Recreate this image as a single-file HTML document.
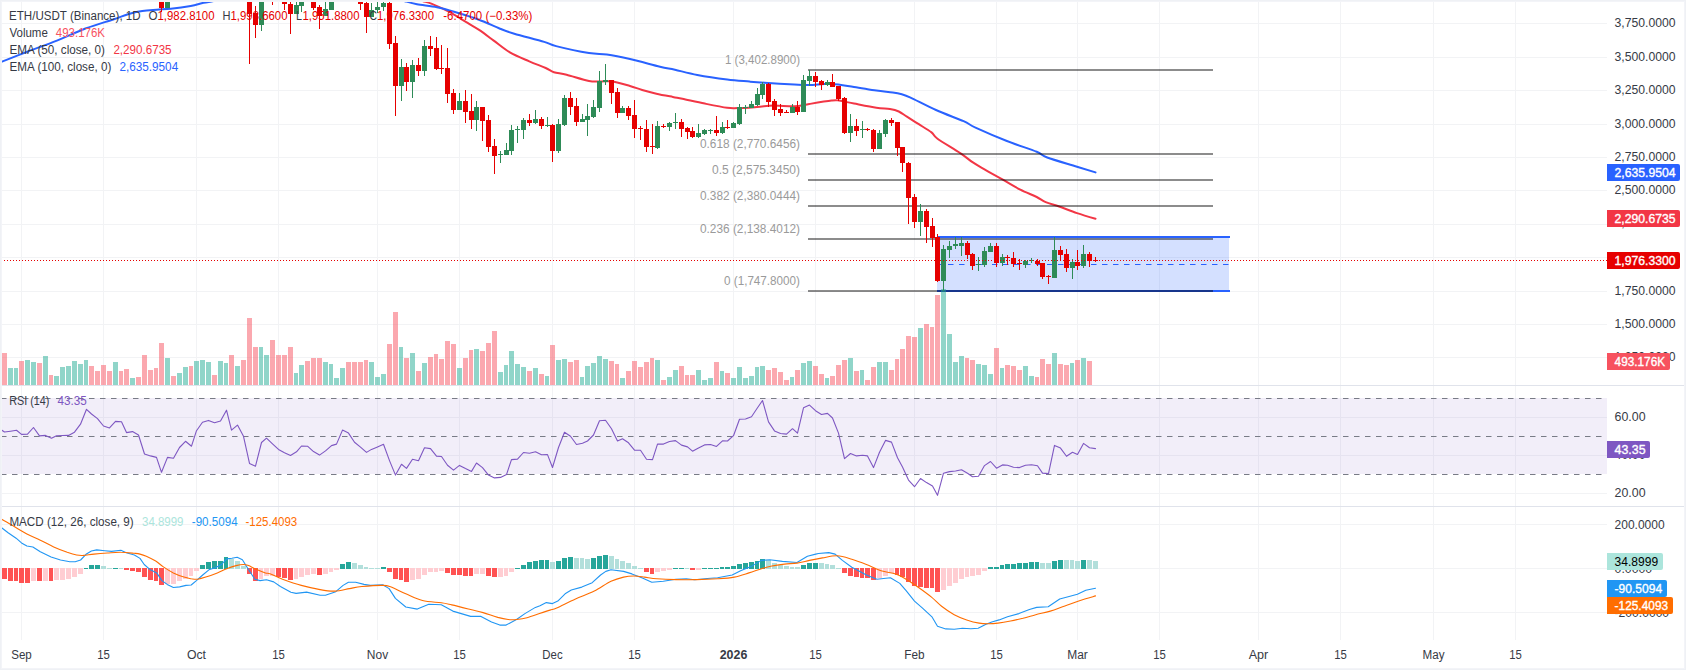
<!DOCTYPE html>
<html><head><meta charset="utf-8"><title>ETH/USDT chart</title>
<style>html,body{margin:0;padding:0;background:#fff}svg{display:block}</style></head>
<body>
<svg width="1686" height="670" viewBox="0 0 1686 670" font-family='"Liberation Sans", Arial, sans-serif' font-size="12">
<rect x="0" y="0" width="1686" height="670" fill="#fff"/>
<g shape-rendering="crispEdges" fill="#f2f3f5">
<rect x="21" y="2" width="1" height="638"/>
<rect x="103" y="2" width="1" height="638"/>
<rect x="196" y="2" width="1" height="638"/>
<rect x="278" y="2" width="1" height="638"/>
<rect x="377" y="2" width="1" height="638"/>
<rect x="459" y="2" width="1" height="638"/>
<rect x="552" y="2" width="1" height="638"/>
<rect x="634" y="2" width="1" height="638"/>
<rect x="733" y="2" width="1" height="638"/>
<rect x="815" y="2" width="1" height="638"/>
<rect x="914" y="2" width="1" height="638"/>
<rect x="996" y="2" width="1" height="638"/>
<rect x="1077" y="2" width="1" height="638"/>
<rect x="1159" y="2" width="1" height="638"/>
<rect x="1258" y="2" width="1" height="638"/>
<rect x="1340" y="2" width="1" height="638"/>
<rect x="1433" y="2" width="1" height="638"/>
<rect x="1515" y="2" width="1" height="638"/>
<rect x="2" y="23" width="1605" height="1"/>
<rect x="2" y="57" width="1605" height="1"/>
<rect x="2" y="90" width="1605" height="1"/>
<rect x="2" y="124" width="1605" height="1"/>
<rect x="2" y="157" width="1605" height="1"/>
<rect x="2" y="190" width="1605" height="1"/>
<rect x="2" y="224" width="1605" height="1"/>
<rect x="2" y="257" width="1605" height="1"/>
<rect x="2" y="291" width="1605" height="1"/>
<rect x="2" y="324" width="1605" height="1"/>
<rect x="2" y="357" width="1605" height="1"/>
<rect x="2" y="417" width="1605" height="1"/>
<rect x="2" y="455" width="1605" height="1"/>
<rect x="2" y="493" width="1605" height="1"/>
<rect x="2" y="524" width="1605" height="1"/>
<rect x="2" y="568" width="1605" height="1"/>
<rect x="2" y="612" width="1605" height="1"/>
</g>
<g shape-rendering="crispEdges" fill="#e0e3eb">
<rect x="2" y="385" width="1682" height="1"/>
<rect x="2" y="506" width="1682" height="1"/>
</g>
<rect x="2" y="398" width="1605" height="76" fill="#7e57c2" fill-opacity="0.1" shape-rendering="crispEdges"/>
<line x1="1" y1="398.5" x2="1607" y2="398.5" stroke="#787b86" stroke-width="1" stroke-dasharray="5.5 5.5"/>
<line x1="1" y1="436.5" x2="1607" y2="436.5" stroke="#787b86" stroke-width="1" stroke-dasharray="5.5 5.5"/>
<line x1="1" y1="474.5" x2="1607" y2="474.5" stroke="#787b86" stroke-width="1" stroke-dasharray="5.5 5.5"/>
<path d="M419.0,-1.5 C419.7,-1.1 420.9,0.3 423.0,1.2 C425.1,2.0 426.9,1.8 431.3,3.6 C435.7,5.4 443.3,8.7 449.3,11.9 C455.3,15.1 462.2,19.7 467.2,22.7 C472.2,25.7 474.7,26.9 479.1,29.9 C483.5,32.9 488.3,36.6 493.4,40.4 C498.5,44.1 503.9,48.9 509.9,52.4 C515.9,55.9 523.3,58.7 529.3,61.3 C535.3,63.9 541.6,66.2 545.7,68.0 C549.8,69.8 550.4,71.1 553.9,72.2 C557.4,73.3 560.8,73.3 566.6,74.8 C572.5,76.3 583.3,79.9 589.0,81.0 C594.7,82.1 596.9,81.4 600.9,81.5 C604.9,81.6 607.9,80.8 612.8,81.5 C617.6,82.2 625.1,84.6 630.0,86.0 C634.9,87.4 637.8,88.7 642.2,90.0 C646.6,91.3 651.3,92.5 656.4,93.7 C661.5,94.9 668.5,96.1 672.8,96.9 C677.1,97.8 677.1,97.7 682.4,98.8 C687.7,99.9 697.3,102.1 704.8,103.6 C712.3,105.1 721.7,107.0 727.2,107.8 C732.7,108.5 732.6,108.2 737.6,108.1 C742.6,108.0 751.0,107.4 757.0,107.0 C763.0,106.6 767.2,105.6 773.4,105.5 C779.6,105.4 788.3,106.5 794.3,106.3 C800.3,106.0 803.1,105.0 809.3,104.0 C815.5,103.0 826.6,101.2 831.6,100.6 C836.6,100.0 835.4,100.1 839.1,100.6 C842.8,101.1 847.8,102.4 854.0,103.6 C860.2,104.8 870.4,106.9 876.4,107.8 C882.4,108.7 886.2,108.4 889.9,109.0 C893.6,109.6 896.0,110.2 898.8,111.5 C901.6,112.8 903.6,114.6 906.9,116.7 C910.2,118.8 914.7,121.6 918.8,124.2 C922.9,126.8 928.4,130.0 931.5,132.4 C934.6,134.8 932.6,135.2 937.5,138.7 C942.4,142.2 954.8,149.4 960.6,153.3 C966.4,157.2 968.5,159.5 972.5,162.2 C976.5,164.9 979.5,166.5 984.5,169.4 C989.5,172.3 996.4,176.0 1002.4,179.4 C1008.4,182.8 1014.6,186.7 1020.3,189.6 C1026.0,192.5 1032.5,194.9 1036.7,197.0 C1040.9,199.1 1042.0,200.6 1045.7,202.2 C1049.4,203.8 1053.9,204.7 1059.1,206.5 C1064.3,208.3 1070.9,211.1 1077.0,213.1 C1083.1,215.1 1092.4,217.8 1095.5,218.7" fill="none" stroke="#f23645" stroke-width="2" stroke-linejoin="round" stroke-linecap="round"/>
<path d="M-2.0,63.0 C-1.4,62.8 -3.7,63.9 1.4,61.9 C6.5,59.9 19.2,54.8 28.5,51.2 C37.8,47.7 47.4,44.4 56.9,40.6 C66.4,36.8 75.9,32.1 85.4,28.5 C94.9,24.9 106.8,21.6 113.9,19.2 C121.0,16.8 123.4,15.5 128.1,14.2 C132.8,12.8 137.6,11.8 142.3,11.1 C147.1,10.3 151.8,10.1 156.6,9.7 C161.3,9.3 165.1,9.4 170.8,8.8 C176.5,8.2 185.2,7.0 190.7,6.0 C196.2,5.0 199.8,3.6 203.6,2.8 C207.4,2.0 210.4,1.8 213.5,1.1 C216.6,0.4 220.6,-1.1 222.0,-1.5" fill="none" stroke="#2962ff" stroke-width="2" stroke-linejoin="round" stroke-linecap="round"/>
<path d="M398.0,-1.5 C399.2,-1.1 401.8,0.2 405.0,1.2 C408.2,2.1 411.7,3.2 417.0,4.2 C422.3,5.2 430.7,5.9 437.0,7.2 C443.3,8.5 448.0,9.9 455.0,12.0 C462.0,14.1 471.5,16.9 479.0,19.7 C486.5,22.5 494.1,26.4 500.0,28.7 C505.9,31.0 506.9,31.5 514.3,33.7 C521.7,35.9 537.2,39.8 544.2,41.9 C551.2,44.0 548.6,44.2 556.1,46.1 C563.6,48.0 580.5,51.7 589.0,53.1 C597.5,54.5 600.1,53.6 606.9,54.6 C613.7,55.6 621.1,57.1 630.0,59.1 C638.9,61.1 652.5,64.9 660.0,66.7 C667.5,68.5 668.7,68.3 674.9,69.7 C681.1,71.1 688.6,73.3 697.3,74.9 C706.0,76.5 718.5,78.3 727.2,79.4 C735.9,80.5 743.4,81.0 749.6,81.6 C755.8,82.1 757.0,82.2 764.5,82.7 C772.0,83.2 786.8,84.2 794.3,84.6 C801.8,85.0 803.1,85.2 809.3,85.1 C815.5,85.0 824.1,83.6 831.6,83.9 C839.1,84.2 846.5,85.8 854.0,86.9 C861.5,88.0 869.9,89.7 876.4,90.6 C882.9,91.5 888.6,91.9 892.8,92.5 C897.0,93.1 898.9,93.5 901.8,94.3 C904.7,95.1 904.3,94.7 910.0,97.3 C915.7,99.9 927.1,106.0 936.0,110.0 C944.9,114.0 957.0,118.3 963.6,121.2 C970.2,124.1 968.3,124.3 975.5,127.6 C982.7,130.9 996.7,137.0 1006.9,141.0 C1017.1,145.0 1030.0,149.1 1036.7,151.8 C1043.4,154.6 1040.5,155.0 1047.2,157.5 C1053.9,160.0 1069.0,164.2 1077.0,166.7 C1085.0,169.2 1092.4,171.4 1095.5,172.4" fill="none" stroke="#2962ff" stroke-width="2" stroke-linejoin="round" stroke-linecap="round"/>
<g shape-rendering="crispEdges">
<rect x="937" y="236" width="292" height="56" fill="#2962ff" fill-opacity="0.2"/>
<rect x="937" y="236" width="293" height="2" fill="#2962ff"/>
<rect x="937" y="290" width="293" height="2" fill="#2962ff"/>
</g>
<line x1="937" y1="264.5" x2="1229" y2="264.5" stroke="#2962ff" stroke-width="1" stroke-dasharray="5.5 5.5"/>
<g shape-rendering="crispEdges" fill="#000" fill-opacity="0.45">
<rect x="808" y="69" width="405" height="2"/>
<rect x="808" y="153" width="405" height="2"/>
<rect x="808" y="179" width="405" height="2"/>
<rect x="808" y="205" width="405" height="2"/>
<rect x="808" y="238" width="405" height="2"/>
<rect x="808" y="290" width="405" height="2"/>
</g>
<text x="800" y="64.2" text-anchor="end" fill="#9a9a9a" textLength="75" lengthAdjust="spacingAndGlyphs">1 (3,402.8900)</text>
<text x="800" y="148.2" text-anchor="end" fill="#9a9a9a" textLength="100" lengthAdjust="spacingAndGlyphs">0.618 (2,770.6456)</text>
<text x="800" y="174.2" text-anchor="end" fill="#9a9a9a" textLength="88" lengthAdjust="spacingAndGlyphs">0.5 (2,575.3450)</text>
<text x="800" y="200.2" text-anchor="end" fill="#9a9a9a" textLength="100" lengthAdjust="spacingAndGlyphs">0.382 (2,380.0444)</text>
<text x="800" y="233.2" text-anchor="end" fill="#9a9a9a" textLength="100" lengthAdjust="spacingAndGlyphs">0.236 (2,138.4012)</text>
<text x="800" y="285.2" text-anchor="end" fill="#9a9a9a" textLength="76" lengthAdjust="spacingAndGlyphs">0 (1,747.8000)</text>
<g shape-rendering="crispEdges">
<rect x="2" y="353" width="5" height="32" fill="#f7525f" fill-opacity="0.5"/>
<rect x="8" y="368" width="5" height="17" fill="#22ab94" fill-opacity="0.5"/>
<rect x="14" y="368" width="4" height="17" fill="#22ab94" fill-opacity="0.5"/>
<rect x="19" y="361" width="5" height="24" fill="#f7525f" fill-opacity="0.5"/>
<rect x="25" y="360" width="5" height="25" fill="#22ab94" fill-opacity="0.5"/>
<rect x="31" y="362" width="5" height="23" fill="#22ab94" fill-opacity="0.5"/>
<rect x="37" y="363" width="5" height="22" fill="#f7525f" fill-opacity="0.5"/>
<rect x="43" y="356" width="5" height="29" fill="#22ab94" fill-opacity="0.5"/>
<rect x="49" y="375" width="4" height="10" fill="#f7525f" fill-opacity="0.5"/>
<rect x="54" y="376" width="5" height="9" fill="#22ab94" fill-opacity="0.5"/>
<rect x="60" y="367" width="5" height="18" fill="#22ab94" fill-opacity="0.5"/>
<rect x="66" y="366" width="5" height="19" fill="#22ab94" fill-opacity="0.5"/>
<rect x="72" y="361" width="5" height="24" fill="#22ab94" fill-opacity="0.5"/>
<rect x="78" y="364" width="5" height="21" fill="#22ab94" fill-opacity="0.5"/>
<rect x="84" y="360" width="4" height="25" fill="#22ab94" fill-opacity="0.5"/>
<rect x="89" y="366" width="5" height="19" fill="#f7525f" fill-opacity="0.5"/>
<rect x="95" y="371" width="5" height="14" fill="#f7525f" fill-opacity="0.5"/>
<rect x="101" y="365" width="5" height="20" fill="#f7525f" fill-opacity="0.5"/>
<rect x="107" y="371" width="5" height="14" fill="#f7525f" fill-opacity="0.5"/>
<rect x="113" y="362" width="5" height="23" fill="#22ab94" fill-opacity="0.5"/>
<rect x="119" y="371" width="4" height="14" fill="#f7525f" fill-opacity="0.5"/>
<rect x="124" y="369" width="5" height="16" fill="#f7525f" fill-opacity="0.5"/>
<rect x="130" y="378" width="5" height="7" fill="#22ab94" fill-opacity="0.5"/>
<rect x="136" y="377" width="5" height="8" fill="#f7525f" fill-opacity="0.5"/>
<rect x="142" y="355" width="5" height="30" fill="#f7525f" fill-opacity="0.5"/>
<rect x="148" y="370" width="5" height="15" fill="#f7525f" fill-opacity="0.5"/>
<rect x="154" y="368" width="4" height="17" fill="#f7525f" fill-opacity="0.5"/>
<rect x="159" y="343" width="5" height="42" fill="#f7525f" fill-opacity="0.5"/>
<rect x="165" y="358" width="5" height="27" fill="#22ab94" fill-opacity="0.5"/>
<rect x="171" y="376" width="5" height="9" fill="#f7525f" fill-opacity="0.5"/>
<rect x="177" y="373" width="5" height="12" fill="#22ab94" fill-opacity="0.5"/>
<rect x="183" y="367" width="5" height="18" fill="#22ab94" fill-opacity="0.5"/>
<rect x="189" y="366" width="4" height="19" fill="#f7525f" fill-opacity="0.5"/>
<rect x="194" y="361" width="5" height="24" fill="#22ab94" fill-opacity="0.5"/>
<rect x="200" y="360" width="5" height="25" fill="#22ab94" fill-opacity="0.5"/>
<rect x="206" y="362" width="5" height="23" fill="#22ab94" fill-opacity="0.5"/>
<rect x="212" y="375" width="5" height="10" fill="#f7525f" fill-opacity="0.5"/>
<rect x="218" y="361" width="5" height="24" fill="#22ab94" fill-opacity="0.5"/>
<rect x="224" y="363" width="4" height="22" fill="#22ab94" fill-opacity="0.5"/>
<rect x="229" y="355" width="5" height="30" fill="#f7525f" fill-opacity="0.5"/>
<rect x="235" y="366" width="5" height="19" fill="#22ab94" fill-opacity="0.5"/>
<rect x="241" y="360" width="5" height="25" fill="#f7525f" fill-opacity="0.5"/>
<rect x="247" y="318" width="5" height="67" fill="#f7525f" fill-opacity="0.5"/>
<rect x="253" y="347" width="5" height="38" fill="#f7525f" fill-opacity="0.5"/>
<rect x="259" y="347" width="4" height="38" fill="#22ab94" fill-opacity="0.5"/>
<rect x="264" y="355" width="5" height="30" fill="#22ab94" fill-opacity="0.5"/>
<rect x="270" y="340" width="5" height="45" fill="#f7525f" fill-opacity="0.5"/>
<rect x="276" y="355" width="5" height="30" fill="#f7525f" fill-opacity="0.5"/>
<rect x="282" y="355" width="5" height="30" fill="#f7525f" fill-opacity="0.5"/>
<rect x="288" y="347" width="5" height="38" fill="#f7525f" fill-opacity="0.5"/>
<rect x="294" y="373" width="4" height="12" fill="#22ab94" fill-opacity="0.5"/>
<rect x="299" y="365" width="5" height="20" fill="#22ab94" fill-opacity="0.5"/>
<rect x="305" y="361" width="5" height="24" fill="#f7525f" fill-opacity="0.5"/>
<rect x="311" y="358" width="5" height="27" fill="#f7525f" fill-opacity="0.5"/>
<rect x="317" y="358" width="5" height="27" fill="#f7525f" fill-opacity="0.5"/>
<rect x="323" y="362" width="5" height="23" fill="#22ab94" fill-opacity="0.5"/>
<rect x="329" y="364" width="4" height="21" fill="#22ab94" fill-opacity="0.5"/>
<rect x="334" y="378" width="5" height="7" fill="#22ab94" fill-opacity="0.5"/>
<rect x="340" y="368" width="5" height="17" fill="#22ab94" fill-opacity="0.5"/>
<rect x="346" y="362" width="5" height="23" fill="#f7525f" fill-opacity="0.5"/>
<rect x="352" y="362" width="5" height="23" fill="#f7525f" fill-opacity="0.5"/>
<rect x="358" y="362" width="5" height="23" fill="#f7525f" fill-opacity="0.5"/>
<rect x="364" y="360" width="4" height="25" fill="#f7525f" fill-opacity="0.5"/>
<rect x="369" y="362" width="5" height="23" fill="#22ab94" fill-opacity="0.5"/>
<rect x="375" y="377" width="5" height="8" fill="#22ab94" fill-opacity="0.5"/>
<rect x="381" y="374" width="5" height="11" fill="#22ab94" fill-opacity="0.5"/>
<rect x="387" y="344" width="5" height="41" fill="#f7525f" fill-opacity="0.5"/>
<rect x="393" y="312" width="5" height="73" fill="#f7525f" fill-opacity="0.5"/>
<rect x="399" y="347" width="4" height="38" fill="#22ab94" fill-opacity="0.5"/>
<rect x="404" y="358" width="5" height="27" fill="#f7525f" fill-opacity="0.5"/>
<rect x="410" y="353" width="5" height="32" fill="#22ab94" fill-opacity="0.5"/>
<rect x="416" y="371" width="5" height="14" fill="#f7525f" fill-opacity="0.5"/>
<rect x="422" y="363" width="5" height="22" fill="#22ab94" fill-opacity="0.5"/>
<rect x="428" y="357" width="5" height="28" fill="#f7525f" fill-opacity="0.5"/>
<rect x="434" y="354" width="4" height="31" fill="#f7525f" fill-opacity="0.5"/>
<rect x="439" y="359" width="5" height="26" fill="#f7525f" fill-opacity="0.5"/>
<rect x="445" y="341" width="5" height="44" fill="#f7525f" fill-opacity="0.5"/>
<rect x="451" y="344" width="5" height="41" fill="#f7525f" fill-opacity="0.5"/>
<rect x="457" y="368" width="5" height="17" fill="#22ab94" fill-opacity="0.5"/>
<rect x="463" y="358" width="5" height="27" fill="#f7525f" fill-opacity="0.5"/>
<rect x="469" y="350" width="4" height="35" fill="#f7525f" fill-opacity="0.5"/>
<rect x="474" y="349" width="5" height="36" fill="#22ab94" fill-opacity="0.5"/>
<rect x="480" y="351" width="5" height="34" fill="#f7525f" fill-opacity="0.5"/>
<rect x="486" y="343" width="5" height="42" fill="#f7525f" fill-opacity="0.5"/>
<rect x="492" y="331" width="5" height="54" fill="#f7525f" fill-opacity="0.5"/>
<rect x="498" y="372" width="5" height="13" fill="#22ab94" fill-opacity="0.5"/>
<rect x="504" y="365" width="4" height="20" fill="#22ab94" fill-opacity="0.5"/>
<rect x="509" y="351" width="5" height="34" fill="#22ab94" fill-opacity="0.5"/>
<rect x="515" y="364" width="5" height="21" fill="#22ab94" fill-opacity="0.5"/>
<rect x="521" y="367" width="5" height="18" fill="#22ab94" fill-opacity="0.5"/>
<rect x="527" y="371" width="5" height="14" fill="#f7525f" fill-opacity="0.5"/>
<rect x="533" y="368" width="5" height="17" fill="#22ab94" fill-opacity="0.5"/>
<rect x="539" y="374" width="5" height="11" fill="#f7525f" fill-opacity="0.5"/>
<rect x="545" y="376" width="4" height="9" fill="#22ab94" fill-opacity="0.5"/>
<rect x="550" y="345" width="5" height="40" fill="#f7525f" fill-opacity="0.5"/>
<rect x="556" y="360" width="5" height="25" fill="#22ab94" fill-opacity="0.5"/>
<rect x="562" y="359" width="5" height="26" fill="#22ab94" fill-opacity="0.5"/>
<rect x="568" y="362" width="5" height="23" fill="#f7525f" fill-opacity="0.5"/>
<rect x="574" y="360" width="5" height="25" fill="#f7525f" fill-opacity="0.5"/>
<rect x="580" y="377" width="4" height="8" fill="#22ab94" fill-opacity="0.5"/>
<rect x="585" y="366" width="5" height="19" fill="#22ab94" fill-opacity="0.5"/>
<rect x="591" y="363" width="5" height="22" fill="#22ab94" fill-opacity="0.5"/>
<rect x="597" y="356" width="5" height="29" fill="#22ab94" fill-opacity="0.5"/>
<rect x="603" y="359" width="5" height="26" fill="#22ab94" fill-opacity="0.5"/>
<rect x="609" y="361" width="5" height="24" fill="#f7525f" fill-opacity="0.5"/>
<rect x="615" y="364" width="4" height="21" fill="#f7525f" fill-opacity="0.5"/>
<rect x="620" y="378" width="5" height="7" fill="#22ab94" fill-opacity="0.5"/>
<rect x="626" y="371" width="5" height="14" fill="#f7525f" fill-opacity="0.5"/>
<rect x="632" y="361" width="5" height="24" fill="#f7525f" fill-opacity="0.5"/>
<rect x="638" y="367" width="5" height="18" fill="#f7525f" fill-opacity="0.5"/>
<rect x="644" y="362" width="5" height="23" fill="#f7525f" fill-opacity="0.5"/>
<rect x="650" y="358" width="4" height="27" fill="#f7525f" fill-opacity="0.5"/>
<rect x="655" y="360" width="5" height="25" fill="#22ab94" fill-opacity="0.5"/>
<rect x="661" y="380" width="5" height="5" fill="#f7525f" fill-opacity="0.5"/>
<rect x="667" y="377" width="5" height="8" fill="#22ab94" fill-opacity="0.5"/>
<rect x="673" y="370" width="5" height="15" fill="#22ab94" fill-opacity="0.5"/>
<rect x="679" y="366" width="5" height="19" fill="#f7525f" fill-opacity="0.5"/>
<rect x="685" y="375" width="4" height="10" fill="#f7525f" fill-opacity="0.5"/>
<rect x="690" y="375" width="5" height="10" fill="#f7525f" fill-opacity="0.5"/>
<rect x="696" y="370" width="5" height="15" fill="#22ab94" fill-opacity="0.5"/>
<rect x="702" y="380" width="5" height="5" fill="#22ab94" fill-opacity="0.5"/>
<rect x="708" y="378" width="5" height="7" fill="#22ab94" fill-opacity="0.5"/>
<rect x="714" y="362" width="5" height="23" fill="#f7525f" fill-opacity="0.5"/>
<rect x="720" y="371" width="4" height="14" fill="#22ab94" fill-opacity="0.5"/>
<rect x="725" y="373" width="5" height="12" fill="#f7525f" fill-opacity="0.5"/>
<rect x="731" y="378" width="5" height="7" fill="#22ab94" fill-opacity="0.5"/>
<rect x="737" y="367" width="5" height="18" fill="#22ab94" fill-opacity="0.5"/>
<rect x="743" y="378" width="5" height="7" fill="#22ab94" fill-opacity="0.5"/>
<rect x="749" y="376" width="5" height="9" fill="#22ab94" fill-opacity="0.5"/>
<rect x="755" y="367" width="4" height="18" fill="#22ab94" fill-opacity="0.5"/>
<rect x="760" y="366" width="5" height="19" fill="#22ab94" fill-opacity="0.5"/>
<rect x="766" y="370" width="5" height="15" fill="#f7525f" fill-opacity="0.5"/>
<rect x="772" y="368" width="5" height="17" fill="#f7525f" fill-opacity="0.5"/>
<rect x="778" y="372" width="5" height="13" fill="#f7525f" fill-opacity="0.5"/>
<rect x="784" y="380" width="5" height="5" fill="#f7525f" fill-opacity="0.5"/>
<rect x="790" y="377" width="4" height="8" fill="#22ab94" fill-opacity="0.5"/>
<rect x="795" y="370" width="5" height="15" fill="#f7525f" fill-opacity="0.5"/>
<rect x="801" y="363" width="5" height="22" fill="#22ab94" fill-opacity="0.5"/>
<rect x="807" y="361" width="5" height="24" fill="#22ab94" fill-opacity="0.5"/>
<rect x="813" y="366" width="5" height="19" fill="#f7525f" fill-opacity="0.5"/>
<rect x="819" y="374" width="5" height="11" fill="#f7525f" fill-opacity="0.5"/>
<rect x="825" y="378" width="4" height="7" fill="#22ab94" fill-opacity="0.5"/>
<rect x="830" y="376" width="5" height="9" fill="#f7525f" fill-opacity="0.5"/>
<rect x="836" y="365" width="5" height="20" fill="#f7525f" fill-opacity="0.5"/>
<rect x="842" y="360" width="5" height="25" fill="#f7525f" fill-opacity="0.5"/>
<rect x="848" y="358" width="5" height="27" fill="#22ab94" fill-opacity="0.5"/>
<rect x="854" y="371" width="5" height="14" fill="#f7525f" fill-opacity="0.5"/>
<rect x="860" y="370" width="4" height="15" fill="#22ab94" fill-opacity="0.5"/>
<rect x="865" y="380" width="5" height="5" fill="#f7525f" fill-opacity="0.5"/>
<rect x="871" y="367" width="5" height="18" fill="#f7525f" fill-opacity="0.5"/>
<rect x="877" y="362" width="5" height="23" fill="#22ab94" fill-opacity="0.5"/>
<rect x="883" y="362" width="5" height="23" fill="#22ab94" fill-opacity="0.5"/>
<rect x="889" y="370" width="5" height="15" fill="#f7525f" fill-opacity="0.5"/>
<rect x="895" y="359" width="4" height="26" fill="#f7525f" fill-opacity="0.5"/>
<rect x="900" y="349" width="5" height="36" fill="#f7525f" fill-opacity="0.5"/>
<rect x="906" y="336" width="5" height="49" fill="#f7525f" fill-opacity="0.5"/>
<rect x="912" y="337" width="5" height="48" fill="#f7525f" fill-opacity="0.5"/>
<rect x="918" y="328" width="5" height="57" fill="#22ab94" fill-opacity="0.5"/>
<rect x="924" y="324" width="5" height="61" fill="#f7525f" fill-opacity="0.5"/>
<rect x="930" y="327" width="4" height="58" fill="#f7525f" fill-opacity="0.5"/>
<rect x="935" y="295" width="5" height="90" fill="#f7525f" fill-opacity="0.5"/>
<rect x="941" y="289" width="5" height="96" fill="#22ab94" fill-opacity="0.5"/>
<rect x="947" y="334" width="5" height="51" fill="#22ab94" fill-opacity="0.5"/>
<rect x="953" y="362" width="5" height="23" fill="#22ab94" fill-opacity="0.5"/>
<rect x="959" y="356" width="5" height="29" fill="#22ab94" fill-opacity="0.5"/>
<rect x="965" y="358" width="4" height="27" fill="#f7525f" fill-opacity="0.5"/>
<rect x="970" y="360" width="5" height="25" fill="#f7525f" fill-opacity="0.5"/>
<rect x="976" y="364" width="5" height="21" fill="#22ab94" fill-opacity="0.5"/>
<rect x="982" y="365" width="5" height="20" fill="#22ab94" fill-opacity="0.5"/>
<rect x="988" y="374" width="5" height="11" fill="#22ab94" fill-opacity="0.5"/>
<rect x="994" y="348" width="5" height="37" fill="#f7525f" fill-opacity="0.5"/>
<rect x="1000" y="368" width="4" height="17" fill="#22ab94" fill-opacity="0.5"/>
<rect x="1005" y="365" width="5" height="20" fill="#f7525f" fill-opacity="0.5"/>
<rect x="1011" y="366" width="5" height="19" fill="#f7525f" fill-opacity="0.5"/>
<rect x="1017" y="370" width="5" height="15" fill="#f7525f" fill-opacity="0.5"/>
<rect x="1023" y="366" width="5" height="19" fill="#22ab94" fill-opacity="0.5"/>
<rect x="1029" y="376" width="5" height="9" fill="#22ab94" fill-opacity="0.5"/>
<rect x="1035" y="377" width="4" height="8" fill="#f7525f" fill-opacity="0.5"/>
<rect x="1040" y="359" width="5" height="26" fill="#f7525f" fill-opacity="0.5"/>
<rect x="1046" y="364" width="5" height="21" fill="#f7525f" fill-opacity="0.5"/>
<rect x="1052" y="353" width="5" height="32" fill="#22ab94" fill-opacity="0.5"/>
<rect x="1058" y="364" width="5" height="21" fill="#f7525f" fill-opacity="0.5"/>
<rect x="1064" y="365" width="5" height="20" fill="#f7525f" fill-opacity="0.5"/>
<rect x="1070" y="363" width="4" height="22" fill="#22ab94" fill-opacity="0.5"/>
<rect x="1075" y="360" width="5" height="25" fill="#f7525f" fill-opacity="0.5"/>
<rect x="1081" y="358" width="5" height="27" fill="#22ab94" fill-opacity="0.5"/>
<rect x="1087" y="361" width="5" height="24" fill="#f7525f" fill-opacity="0.5"/>
</g>
<g shape-rendering="crispEdges">
<rect x="161" y="-5" width="1" height="17" fill="#e60000"/>
<rect x="159" y="-5" width="5" height="13" fill="#e60000"/>
<rect x="167" y="-5" width="1" height="13" fill="#2e8b57"/>
<rect x="165" y="-5" width="5" height="13" fill="#2e8b57"/>
<rect x="249" y="-5" width="1" height="69" fill="#e60000"/>
<rect x="247" y="-5" width="5" height="19" fill="#e60000"/>
<rect x="255" y="6" width="1" height="32" fill="#e60000"/>
<rect x="253" y="13" width="5" height="12" fill="#e60000"/>
<rect x="261" y="-5" width="1" height="36" fill="#2e8b57"/>
<rect x="259" y="-5" width="5" height="30" fill="#2e8b57"/>
<rect x="272" y="-5" width="1" height="10" fill="#e60000"/>
<rect x="270" y="-5" width="5" height="5" fill="#e60000"/>
<rect x="284" y="-5" width="1" height="15" fill="#e60000"/>
<rect x="282" y="-5" width="5" height="9" fill="#e60000"/>
<rect x="290" y="-5" width="1" height="39" fill="#e60000"/>
<rect x="288" y="4" width="5" height="10" fill="#e60000"/>
<rect x="296" y="-5" width="1" height="19" fill="#2e8b57"/>
<rect x="294" y="5" width="5" height="9" fill="#2e8b57"/>
<rect x="301" y="-5" width="1" height="17" fill="#2e8b57"/>
<rect x="299" y="-5" width="5" height="11" fill="#2e8b57"/>
<rect x="307" y="-5" width="1" height="7" fill="#e60000"/>
<rect x="305" y="-5" width="5" height="7" fill="#e60000"/>
<rect x="313" y="-5" width="1" height="15" fill="#e60000"/>
<rect x="311" y="-5" width="5" height="13" fill="#e60000"/>
<rect x="319" y="5" width="1" height="24" fill="#e60000"/>
<rect x="317" y="7" width="5" height="9" fill="#e60000"/>
<rect x="325" y="1" width="1" height="15" fill="#2e8b57"/>
<rect x="323" y="9" width="5" height="7" fill="#2e8b57"/>
<rect x="331" y="-5" width="1" height="15" fill="#2e8b57"/>
<rect x="329" y="-5" width="5" height="15" fill="#2e8b57"/>
<rect x="336" y="-5" width="1" height="7" fill="#2e8b57"/>
<rect x="334" y="-5" width="5" height="7" fill="#2e8b57"/>
<rect x="360" y="-5" width="1" height="15" fill="#e60000"/>
<rect x="358" y="-5" width="5" height="9" fill="#e60000"/>
<rect x="366" y="-5" width="1" height="38" fill="#e60000"/>
<rect x="364" y="3" width="5" height="14" fill="#e60000"/>
<rect x="371" y="3" width="1" height="14" fill="#2e8b57"/>
<rect x="369" y="10" width="5" height="7" fill="#2e8b57"/>
<rect x="377" y="2" width="1" height="11" fill="#2e8b57"/>
<rect x="375" y="7" width="5" height="3" fill="#2e8b57"/>
<rect x="383" y="1" width="1" height="10" fill="#2e8b57"/>
<rect x="381" y="3" width="5" height="4" fill="#2e8b57"/>
<rect x="389" y="2" width="1" height="47" fill="#e60000"/>
<rect x="387" y="3" width="5" height="41" fill="#e60000"/>
<rect x="395" y="36" width="1" height="80" fill="#e60000"/>
<rect x="393" y="43" width="5" height="43" fill="#e60000"/>
<rect x="401" y="59" width="1" height="42" fill="#2e8b57"/>
<rect x="399" y="67" width="5" height="19" fill="#2e8b57"/>
<rect x="406" y="63" width="1" height="28" fill="#e60000"/>
<rect x="404" y="67" width="5" height="15" fill="#e60000"/>
<rect x="412" y="60" width="1" height="38" fill="#2e8b57"/>
<rect x="410" y="65" width="5" height="17" fill="#2e8b57"/>
<rect x="418" y="58" width="1" height="18" fill="#e60000"/>
<rect x="416" y="65" width="5" height="6" fill="#e60000"/>
<rect x="424" y="40" width="1" height="36" fill="#2e8b57"/>
<rect x="422" y="46" width="5" height="25" fill="#2e8b57"/>
<rect x="430" y="36" width="1" height="20" fill="#e60000"/>
<rect x="428" y="46" width="5" height="3" fill="#e60000"/>
<rect x="436" y="37" width="1" height="33" fill="#e60000"/>
<rect x="434" y="48" width="5" height="21" fill="#e60000"/>
<rect x="441" y="45" width="1" height="29" fill="#e60000"/>
<rect x="439" y="68" width="5" height="1" fill="#e60000"/>
<rect x="447" y="48" width="1" height="55" fill="#e60000"/>
<rect x="445" y="68" width="5" height="26" fill="#e60000"/>
<rect x="453" y="89" width="1" height="25" fill="#e60000"/>
<rect x="451" y="93" width="5" height="17" fill="#e60000"/>
<rect x="459" y="93" width="1" height="17" fill="#2e8b57"/>
<rect x="457" y="101" width="5" height="9" fill="#2e8b57"/>
<rect x="465" y="90" width="1" height="33" fill="#e60000"/>
<rect x="463" y="101" width="5" height="11" fill="#e60000"/>
<rect x="471" y="94" width="1" height="35" fill="#e60000"/>
<rect x="469" y="111" width="5" height="9" fill="#e60000"/>
<rect x="476" y="101" width="1" height="30" fill="#2e8b57"/>
<rect x="474" y="107" width="5" height="13" fill="#2e8b57"/>
<rect x="482" y="107" width="1" height="34" fill="#e60000"/>
<rect x="480" y="107" width="5" height="14" fill="#e60000"/>
<rect x="488" y="115" width="1" height="37" fill="#e60000"/>
<rect x="486" y="120" width="5" height="27" fill="#e60000"/>
<rect x="494" y="139" width="1" height="35" fill="#e60000"/>
<rect x="492" y="146" width="5" height="10" fill="#e60000"/>
<rect x="500" y="151" width="1" height="12" fill="#2e8b57"/>
<rect x="498" y="154" width="5" height="1" fill="#2e8b57"/>
<rect x="506" y="143" width="1" height="12" fill="#2e8b57"/>
<rect x="504" y="150" width="5" height="5" fill="#2e8b57"/>
<rect x="511" y="125" width="1" height="30" fill="#2e8b57"/>
<rect x="509" y="130" width="5" height="21" fill="#2e8b57"/>
<rect x="517" y="126" width="1" height="17" fill="#2e8b57"/>
<rect x="515" y="129" width="5" height="1" fill="#2e8b57"/>
<rect x="523" y="118" width="1" height="21" fill="#2e8b57"/>
<rect x="521" y="120" width="5" height="10" fill="#2e8b57"/>
<rect x="529" y="114" width="1" height="12" fill="#e60000"/>
<rect x="527" y="120" width="5" height="3" fill="#e60000"/>
<rect x="535" y="110" width="1" height="14" fill="#2e8b57"/>
<rect x="533" y="119" width="5" height="4" fill="#2e8b57"/>
<rect x="541" y="117" width="1" height="12" fill="#e60000"/>
<rect x="539" y="119" width="5" height="7" fill="#e60000"/>
<rect x="547" y="117" width="1" height="10" fill="#2e8b57"/>
<rect x="545" y="125" width="5" height="1" fill="#2e8b57"/>
<rect x="552" y="124" width="1" height="38" fill="#e60000"/>
<rect x="550" y="125" width="5" height="26" fill="#e60000"/>
<rect x="558" y="119" width="1" height="34" fill="#2e8b57"/>
<rect x="556" y="124" width="5" height="27" fill="#2e8b57"/>
<rect x="564" y="95" width="1" height="31" fill="#2e8b57"/>
<rect x="562" y="98" width="5" height="27" fill="#2e8b57"/>
<rect x="570" y="92" width="1" height="23" fill="#e60000"/>
<rect x="568" y="98" width="5" height="9" fill="#e60000"/>
<rect x="576" y="98" width="1" height="28" fill="#e60000"/>
<rect x="574" y="106" width="5" height="16" fill="#e60000"/>
<rect x="582" y="114" width="1" height="8" fill="#2e8b57"/>
<rect x="580" y="119" width="5" height="3" fill="#2e8b57"/>
<rect x="587" y="104" width="1" height="32" fill="#2e8b57"/>
<rect x="585" y="116" width="5" height="4" fill="#2e8b57"/>
<rect x="593" y="100" width="1" height="18" fill="#2e8b57"/>
<rect x="591" y="107" width="5" height="10" fill="#2e8b57"/>
<rect x="599" y="71" width="1" height="41" fill="#2e8b57"/>
<rect x="597" y="81" width="5" height="27" fill="#2e8b57"/>
<rect x="605" y="64" width="1" height="21" fill="#2e8b57"/>
<rect x="603" y="80" width="5" height="2" fill="#2e8b57"/>
<rect x="611" y="80" width="1" height="24" fill="#e60000"/>
<rect x="609" y="80" width="5" height="13" fill="#e60000"/>
<rect x="617" y="88" width="1" height="30" fill="#e60000"/>
<rect x="615" y="92" width="5" height="21" fill="#e60000"/>
<rect x="622" y="106" width="1" height="7" fill="#2e8b57"/>
<rect x="620" y="108" width="5" height="5" fill="#2e8b57"/>
<rect x="628" y="106" width="1" height="14" fill="#e60000"/>
<rect x="626" y="108" width="5" height="8" fill="#e60000"/>
<rect x="634" y="100" width="1" height="38" fill="#e60000"/>
<rect x="632" y="115" width="5" height="14" fill="#e60000"/>
<rect x="640" y="126" width="1" height="14" fill="#e60000"/>
<rect x="638" y="128" width="5" height="1" fill="#e60000"/>
<rect x="646" y="120" width="1" height="32" fill="#e60000"/>
<rect x="644" y="129" width="5" height="18" fill="#e60000"/>
<rect x="652" y="124" width="1" height="30" fill="#e60000"/>
<rect x="650" y="146" width="5" height="1" fill="#e60000"/>
<rect x="657" y="121" width="1" height="28" fill="#2e8b57"/>
<rect x="655" y="126" width="5" height="22" fill="#2e8b57"/>
<rect x="663" y="124" width="1" height="4" fill="#e60000"/>
<rect x="661" y="126" width="5" height="1" fill="#e60000"/>
<rect x="669" y="122" width="1" height="9" fill="#2e8b57"/>
<rect x="667" y="123" width="5" height="4" fill="#2e8b57"/>
<rect x="675" y="113" width="1" height="16" fill="#2e8b57"/>
<rect x="673" y="122" width="5" height="1" fill="#2e8b57"/>
<rect x="681" y="119" width="1" height="18" fill="#e60000"/>
<rect x="679" y="122" width="5" height="7" fill="#e60000"/>
<rect x="687" y="127" width="1" height="12" fill="#e60000"/>
<rect x="685" y="128" width="5" height="4" fill="#e60000"/>
<rect x="692" y="127" width="1" height="11" fill="#e60000"/>
<rect x="690" y="131" width="5" height="6" fill="#e60000"/>
<rect x="698" y="124" width="1" height="14" fill="#2e8b57"/>
<rect x="696" y="133" width="5" height="4" fill="#2e8b57"/>
<rect x="704" y="129" width="1" height="6" fill="#2e8b57"/>
<rect x="702" y="130" width="5" height="4" fill="#2e8b57"/>
<rect x="710" y="129" width="1" height="5" fill="#2e8b57"/>
<rect x="708" y="130" width="5" height="1" fill="#2e8b57"/>
<rect x="716" y="116" width="1" height="20" fill="#e60000"/>
<rect x="714" y="130" width="5" height="3" fill="#e60000"/>
<rect x="722" y="122" width="1" height="12" fill="#2e8b57"/>
<rect x="720" y="127" width="5" height="6" fill="#2e8b57"/>
<rect x="727" y="120" width="1" height="9" fill="#e60000"/>
<rect x="725" y="127" width="5" height="1" fill="#e60000"/>
<rect x="733" y="122" width="1" height="6" fill="#2e8b57"/>
<rect x="731" y="123" width="5" height="5" fill="#2e8b57"/>
<rect x="739" y="104" width="1" height="21" fill="#2e8b57"/>
<rect x="737" y="107" width="5" height="17" fill="#2e8b57"/>
<rect x="745" y="105" width="1" height="9" fill="#2e8b57"/>
<rect x="743" y="107" width="5" height="1" fill="#2e8b57"/>
<rect x="751" y="101" width="1" height="7" fill="#2e8b57"/>
<rect x="749" y="104" width="5" height="4" fill="#2e8b57"/>
<rect x="757" y="88" width="1" height="18" fill="#2e8b57"/>
<rect x="755" y="94" width="5" height="11" fill="#2e8b57"/>
<rect x="762" y="82" width="1" height="17" fill="#2e8b57"/>
<rect x="760" y="84" width="5" height="11" fill="#2e8b57"/>
<rect x="768" y="83" width="1" height="24" fill="#e60000"/>
<rect x="766" y="84" width="5" height="18" fill="#e60000"/>
<rect x="774" y="99" width="1" height="17" fill="#e60000"/>
<rect x="772" y="101" width="5" height="9" fill="#e60000"/>
<rect x="780" y="104" width="1" height="12" fill="#e60000"/>
<rect x="778" y="109" width="5" height="4" fill="#e60000"/>
<rect x="786" y="110" width="1" height="3" fill="#e60000"/>
<rect x="784" y="112" width="5" height="1" fill="#e60000"/>
<rect x="792" y="104" width="1" height="9" fill="#2e8b57"/>
<rect x="790" y="107" width="5" height="6" fill="#2e8b57"/>
<rect x="797" y="101" width="1" height="14" fill="#e60000"/>
<rect x="795" y="107" width="5" height="5" fill="#e60000"/>
<rect x="803" y="75" width="1" height="37" fill="#2e8b57"/>
<rect x="801" y="80" width="5" height="32" fill="#2e8b57"/>
<rect x="809" y="70" width="1" height="16" fill="#2e8b57"/>
<rect x="807" y="76" width="5" height="5" fill="#2e8b57"/>
<rect x="815" y="72" width="1" height="15" fill="#e60000"/>
<rect x="813" y="76" width="5" height="6" fill="#e60000"/>
<rect x="821" y="80" width="1" height="10" fill="#e60000"/>
<rect x="819" y="81" width="5" height="4" fill="#e60000"/>
<rect x="827" y="80" width="1" height="6" fill="#2e8b57"/>
<rect x="825" y="82" width="5" height="3" fill="#2e8b57"/>
<rect x="832" y="74" width="1" height="13" fill="#e60000"/>
<rect x="830" y="82" width="5" height="5" fill="#e60000"/>
<rect x="838" y="86" width="1" height="15" fill="#e60000"/>
<rect x="836" y="86" width="5" height="13" fill="#e60000"/>
<rect x="844" y="97" width="1" height="37" fill="#e60000"/>
<rect x="842" y="98" width="5" height="35" fill="#e60000"/>
<rect x="850" y="114" width="1" height="28" fill="#2e8b57"/>
<rect x="848" y="126" width="5" height="7" fill="#2e8b57"/>
<rect x="856" y="119" width="1" height="17" fill="#e60000"/>
<rect x="854" y="126" width="5" height="5" fill="#e60000"/>
<rect x="862" y="121" width="1" height="17" fill="#2e8b57"/>
<rect x="860" y="129" width="5" height="1" fill="#2e8b57"/>
<rect x="867" y="128" width="1" height="3" fill="#e60000"/>
<rect x="865" y="129" width="5" height="1" fill="#e60000"/>
<rect x="873" y="129" width="1" height="23" fill="#e60000"/>
<rect x="871" y="130" width="5" height="19" fill="#e60000"/>
<rect x="879" y="130" width="1" height="19" fill="#2e8b57"/>
<rect x="877" y="133" width="5" height="16" fill="#2e8b57"/>
<rect x="885" y="119" width="1" height="18" fill="#2e8b57"/>
<rect x="883" y="120" width="5" height="14" fill="#2e8b57"/>
<rect x="891" y="118" width="1" height="8" fill="#e60000"/>
<rect x="889" y="120" width="5" height="3" fill="#e60000"/>
<rect x="897" y="122" width="1" height="34" fill="#e60000"/>
<rect x="895" y="122" width="5" height="26" fill="#e60000"/>
<rect x="902" y="147" width="1" height="25" fill="#e60000"/>
<rect x="900" y="147" width="5" height="16" fill="#e60000"/>
<rect x="908" y="162" width="1" height="62" fill="#e60000"/>
<rect x="906" y="163" width="5" height="35" fill="#e60000"/>
<rect x="914" y="194" width="1" height="34" fill="#e60000"/>
<rect x="912" y="197" width="5" height="25" fill="#e60000"/>
<rect x="920" y="204" width="1" height="32" fill="#2e8b57"/>
<rect x="918" y="211" width="5" height="11" fill="#2e8b57"/>
<rect x="926" y="209" width="1" height="34" fill="#e60000"/>
<rect x="924" y="211" width="5" height="16" fill="#e60000"/>
<rect x="932" y="218" width="1" height="29" fill="#e60000"/>
<rect x="930" y="226" width="5" height="12" fill="#e60000"/>
<rect x="937" y="234" width="1" height="48" fill="#e60000"/>
<rect x="935" y="237" width="5" height="44" fill="#e60000"/>
<rect x="943" y="245" width="1" height="46" fill="#2e8b57"/>
<rect x="941" y="249" width="5" height="32" fill="#2e8b57"/>
<rect x="949" y="241" width="1" height="17" fill="#2e8b57"/>
<rect x="947" y="246" width="5" height="4" fill="#2e8b57"/>
<rect x="955" y="237" width="1" height="12" fill="#2e8b57"/>
<rect x="953" y="244" width="5" height="2" fill="#2e8b57"/>
<rect x="961" y="237" width="1" height="19" fill="#2e8b57"/>
<rect x="959" y="243" width="5" height="3" fill="#2e8b57"/>
<rect x="967" y="241" width="1" height="18" fill="#e60000"/>
<rect x="965" y="243" width="5" height="12" fill="#e60000"/>
<rect x="972" y="253" width="1" height="17" fill="#e60000"/>
<rect x="970" y="254" width="5" height="12" fill="#e60000"/>
<rect x="978" y="257" width="1" height="14" fill="#2e8b57"/>
<rect x="976" y="264" width="5" height="1" fill="#2e8b57"/>
<rect x="984" y="247" width="1" height="20" fill="#2e8b57"/>
<rect x="982" y="251" width="5" height="14" fill="#2e8b57"/>
<rect x="990" y="243" width="1" height="9" fill="#2e8b57"/>
<rect x="988" y="246" width="5" height="6" fill="#2e8b57"/>
<rect x="996" y="243" width="1" height="24" fill="#e60000"/>
<rect x="994" y="246" width="5" height="17" fill="#e60000"/>
<rect x="1002" y="254" width="1" height="12" fill="#2e8b57"/>
<rect x="1000" y="257" width="5" height="6" fill="#2e8b57"/>
<rect x="1007" y="255" width="1" height="10" fill="#e60000"/>
<rect x="1005" y="257" width="5" height="1" fill="#e60000"/>
<rect x="1013" y="252" width="1" height="15" fill="#e60000"/>
<rect x="1011" y="258" width="5" height="6" fill="#e60000"/>
<rect x="1019" y="259" width="1" height="11" fill="#e60000"/>
<rect x="1017" y="263" width="5" height="1" fill="#e60000"/>
<rect x="1025" y="260" width="1" height="8" fill="#2e8b57"/>
<rect x="1023" y="261" width="5" height="4" fill="#2e8b57"/>
<rect x="1031" y="258" width="1" height="5" fill="#2e8b57"/>
<rect x="1029" y="260" width="5" height="1" fill="#2e8b57"/>
<rect x="1037" y="259" width="1" height="7" fill="#e60000"/>
<rect x="1035" y="261" width="5" height="3" fill="#e60000"/>
<rect x="1042" y="263" width="1" height="16" fill="#e60000"/>
<rect x="1040" y="263" width="5" height="14" fill="#e60000"/>
<rect x="1048" y="275" width="1" height="9" fill="#e60000"/>
<rect x="1046" y="276" width="5" height="1" fill="#e60000"/>
<rect x="1054" y="237" width="1" height="41" fill="#2e8b57"/>
<rect x="1052" y="250" width="5" height="28" fill="#2e8b57"/>
<rect x="1060" y="246" width="1" height="15" fill="#e60000"/>
<rect x="1058" y="250" width="5" height="5" fill="#e60000"/>
<rect x="1066" y="249" width="1" height="23" fill="#e60000"/>
<rect x="1064" y="254" width="5" height="14" fill="#e60000"/>
<rect x="1072" y="259" width="1" height="20" fill="#2e8b57"/>
<rect x="1070" y="262" width="5" height="6" fill="#2e8b57"/>
<rect x="1077" y="250" width="1" height="20" fill="#e60000"/>
<rect x="1075" y="262" width="5" height="4" fill="#e60000"/>
<rect x="1083" y="245" width="1" height="23" fill="#2e8b57"/>
<rect x="1081" y="254" width="5" height="12" fill="#2e8b57"/>
<rect x="1089" y="252" width="1" height="15" fill="#e60000"/>
<rect x="1087" y="254" width="5" height="7" fill="#e60000"/>
<rect x="1095" y="257" width="1" height="5" fill="#e60000"/>
<rect x="1093" y="260" width="5" height="1" fill="#e60000"/>
</g>
<line x1="1" y1="260.5" x2="1607" y2="260.5" stroke="#e60000" stroke-width="1" stroke-dasharray="1 2" shape-rendering="crispEdges"/>
<polyline points="-1.5,428.0 4.5,432.0 10.5,431.2 16.5,430.3 21.5,434.4 27.5,434.1 33.5,427.5 39.5,435.9 45.5,435.4 51.5,438.2 56.5,435.7 62.5,435.5 68.5,435.4 74.5,432.2 80.5,424.2 86.5,409.3 91.5,414.0 97.5,418.6 103.5,426.0 109.5,427.9 115.5,421.4 121.5,421.8 126.5,432.6 132.5,431.6 138.5,435.0 144.5,454.0 150.5,455.9 156.5,457.4 161.5,472.3 167.5,457.4 173.5,458.3 179.5,447.5 185.5,441.3 191.5,446.2 196.5,430.7 202.5,422.3 208.5,420.4 214.5,422.7 220.5,421.0 226.5,410.2 231.5,430.1 237.5,425.1 243.5,436.3 249.5,463.4 255.5,466.2 261.5,442.5 266.5,438.2 272.5,443.8 278.5,449.4 284.5,452.7 290.5,455.5 296.5,451.8 301.5,446.0 307.5,446.2 313.5,451.6 319.5,455.1 325.5,450.9 331.5,445.6 336.5,444.1 342.5,430.1 348.5,433.1 354.5,442.3 360.5,447.1 366.5,452.4 371.5,449.4 377.5,446.9 383.5,444.3 389.5,460.6 395.5,475.1 401.5,464.3 406.5,468.4 412.5,459.3 418.5,460.7 424.5,447.7 430.5,448.6 436.5,456.1 441.5,456.5 447.5,465.2 453.5,470.1 459.5,465.4 465.5,468.6 471.5,471.4 476.5,463.0 482.5,467.6 488.5,475.1 494.5,477.9 500.5,477.4 506.5,474.6 511.5,459.6 517.5,459.1 523.5,452.5 529.5,453.3 535.5,451.7 541.5,454.8 547.5,454.6 552.5,467.5 558.5,447.5 564.5,432.2 570.5,436.3 576.5,444.5 582.5,443.2 587.5,441.0 593.5,435.0 599.5,420.8 605.5,420.3 611.5,428.8 617.5,441.0 622.5,438.7 628.5,442.8 634.5,450.1 640.5,450.3 646.5,459.3 652.5,459.6 657.5,444.1 663.5,444.1 669.5,441.5 675.5,440.6 681.5,445.1 687.5,446.9 692.5,451.2 698.5,447.9 704.5,444.9 710.5,444.5 716.5,446.4 722.5,440.8 727.5,441.0 733.5,435.7 739.5,419.3 745.5,419.0 751.5,416.7 757.5,407.8 762.5,400.5 768.5,421.9 774.5,430.9 780.5,433.5 786.5,434.1 792.5,428.7 797.5,433.1 803.5,407.8 809.5,405.1 815.5,410.7 821.5,414.5 827.5,413.4 832.5,418.0 838.5,433.1 844.5,458.7 850.5,453.5 856.5,455.9 862.5,455.3 867.5,455.9 873.5,467.6 879.5,452.2 885.5,440.4 891.5,442.1 897.5,457.8 902.5,467.1 908.5,480.1 914.5,486.7 920.5,478.5 926.5,482.6 932.5,486.1 937.5,495.3 943.5,473.2 949.5,471.6 955.5,471.0 961.5,469.7 967.5,473.2 972.5,476.8 978.5,476.2 984.5,465.6 990.5,461.5 996.5,468.2 1002.5,464.9 1007.5,465.2 1013.5,467.3 1019.5,467.6 1025.5,465.2 1031.5,464.7 1037.5,465.8 1042.5,473.1 1048.5,473.6 1054.5,445.4 1060.5,448.1 1066.5,456.3 1072.5,452.2 1077.5,454.4 1083.5,443.4 1089.5,447.7 1095.5,448.6" fill="none" stroke="#7e57c2" stroke-width="1.1" stroke-linejoin="round" stroke-linecap="round"/>
<g shape-rendering="crispEdges">
<rect x="2" y="568" width="5" height="11" fill="#ff5252"/>
<rect x="8" y="568" width="5" height="13" fill="#ff5252"/>
<rect x="14" y="568" width="4" height="13" fill="#ff5252"/>
<rect x="19" y="568" width="5" height="15" fill="#ff5252"/>
<rect x="25" y="568" width="5" height="15" fill="#ff5252"/>
<rect x="31" y="568" width="5" height="13" fill="#ffcdd2"/>
<rect x="37" y="568" width="5" height="13" fill="#ff5252"/>
<rect x="43" y="568" width="5" height="13" fill="#ffcdd2"/>
<rect x="49" y="568" width="4" height="13" fill="#ff5252"/>
<rect x="54" y="568" width="5" height="12" fill="#ffcdd2"/>
<rect x="60" y="568" width="5" height="12" fill="#ffcdd2"/>
<rect x="66" y="568" width="5" height="11" fill="#ffcdd2"/>
<rect x="72" y="568" width="5" height="9" fill="#ffcdd2"/>
<rect x="78" y="568" width="5" height="6" fill="#ffcdd2"/>
<rect x="84" y="568" width="4" height="1" fill="#26a69a"/>
<rect x="89" y="565" width="5" height="4" fill="#26a69a"/>
<rect x="95" y="565" width="5" height="4" fill="#26a69a"/>
<rect x="101" y="566" width="5" height="3" fill="#b2dfdb"/>
<rect x="107" y="568" width="5" height="1" fill="#b2dfdb"/>
<rect x="113" y="568" width="5" height="1" fill="#26a69a"/>
<rect x="119" y="568" width="4" height="1" fill="#b2dfdb"/>
<rect x="124" y="568" width="5" height="2" fill="#ff5252"/>
<rect x="130" y="568" width="5" height="3" fill="#ff5252"/>
<rect x="136" y="568" width="5" height="4" fill="#ff5252"/>
<rect x="142" y="568" width="5" height="9" fill="#ff5252"/>
<rect x="148" y="568" width="5" height="12" fill="#ff5252"/>
<rect x="154" y="568" width="4" height="13" fill="#ff5252"/>
<rect x="159" y="568" width="5" height="17" fill="#ff5252"/>
<rect x="165" y="568" width="5" height="16" fill="#ffcdd2"/>
<rect x="171" y="568" width="5" height="16" fill="#ffcdd2"/>
<rect x="177" y="568" width="5" height="13" fill="#ffcdd2"/>
<rect x="183" y="568" width="5" height="11" fill="#ffcdd2"/>
<rect x="189" y="568" width="4" height="8" fill="#ffcdd2"/>
<rect x="194" y="568" width="5" height="3" fill="#ffcdd2"/>
<rect x="200" y="565" width="5" height="4" fill="#26a69a"/>
<rect x="206" y="562" width="5" height="7" fill="#26a69a"/>
<rect x="212" y="561" width="5" height="8" fill="#26a69a"/>
<rect x="218" y="561" width="5" height="8" fill="#26a69a"/>
<rect x="224" y="557" width="4" height="12" fill="#26a69a"/>
<rect x="229" y="559" width="5" height="10" fill="#b2dfdb"/>
<rect x="235" y="561" width="5" height="8" fill="#b2dfdb"/>
<rect x="241" y="566" width="5" height="3" fill="#b2dfdb"/>
<rect x="247" y="568" width="5" height="6" fill="#ff5252"/>
<rect x="253" y="568" width="5" height="13" fill="#ff5252"/>
<rect x="259" y="568" width="4" height="11" fill="#ffcdd2"/>
<rect x="264" y="568" width="5" height="8" fill="#ffcdd2"/>
<rect x="270" y="568" width="5" height="8" fill="#ffcdd2"/>
<rect x="276" y="568" width="5" height="9" fill="#ff5252"/>
<rect x="282" y="568" width="5" height="10" fill="#ff5252"/>
<rect x="288" y="568" width="5" height="12" fill="#ff5252"/>
<rect x="294" y="568" width="4" height="11" fill="#ffcdd2"/>
<rect x="299" y="568" width="5" height="9" fill="#ffcdd2"/>
<rect x="305" y="568" width="5" height="7" fill="#ffcdd2"/>
<rect x="311" y="568" width="5" height="6" fill="#ffcdd2"/>
<rect x="317" y="568" width="5" height="7" fill="#ff5252"/>
<rect x="323" y="568" width="5" height="6" fill="#ffcdd2"/>
<rect x="329" y="568" width="4" height="4" fill="#ffcdd2"/>
<rect x="334" y="568" width="5" height="2" fill="#ffcdd2"/>
<rect x="340" y="564" width="5" height="5" fill="#26a69a"/>
<rect x="346" y="562" width="5" height="7" fill="#26a69a"/>
<rect x="352" y="563" width="5" height="6" fill="#b2dfdb"/>
<rect x="358" y="565" width="5" height="4" fill="#b2dfdb"/>
<rect x="364" y="567" width="4" height="2" fill="#b2dfdb"/>
<rect x="369" y="568" width="5" height="1" fill="#b2dfdb"/>
<rect x="375" y="568" width="5" height="1" fill="#b2dfdb"/>
<rect x="381" y="567" width="5" height="2" fill="#26a69a"/>
<rect x="387" y="568" width="5" height="4" fill="#ff5252"/>
<rect x="393" y="568" width="5" height="11" fill="#ff5252"/>
<rect x="399" y="568" width="4" height="12" fill="#ff5252"/>
<rect x="404" y="568" width="5" height="14" fill="#ff5252"/>
<rect x="410" y="568" width="5" height="12" fill="#ffcdd2"/>
<rect x="416" y="568" width="5" height="11" fill="#ffcdd2"/>
<rect x="422" y="568" width="5" height="7" fill="#ffcdd2"/>
<rect x="428" y="568" width="5" height="4" fill="#ffcdd2"/>
<rect x="434" y="568" width="4" height="4" fill="#ffcdd2"/>
<rect x="439" y="568" width="5" height="3" fill="#ffcdd2"/>
<rect x="445" y="568" width="5" height="5" fill="#ff5252"/>
<rect x="451" y="568" width="5" height="7" fill="#ff5252"/>
<rect x="457" y="568" width="5" height="7" fill="#ff5252"/>
<rect x="463" y="568" width="5" height="8" fill="#ff5252"/>
<rect x="469" y="568" width="4" height="8" fill="#ff5252"/>
<rect x="474" y="568" width="5" height="6" fill="#ffcdd2"/>
<rect x="480" y="568" width="5" height="6" fill="#ffcdd2"/>
<rect x="486" y="568" width="5" height="8" fill="#ff5252"/>
<rect x="492" y="568" width="5" height="9" fill="#ff5252"/>
<rect x="498" y="568" width="5" height="9" fill="#ffcdd2"/>
<rect x="504" y="568" width="4" height="8" fill="#ffcdd2"/>
<rect x="509" y="568" width="5" height="4" fill="#ffcdd2"/>
<rect x="515" y="568" width="5" height="1" fill="#26a69a"/>
<rect x="521" y="565" width="5" height="4" fill="#26a69a"/>
<rect x="527" y="562" width="5" height="7" fill="#26a69a"/>
<rect x="533" y="561" width="5" height="8" fill="#26a69a"/>
<rect x="539" y="560" width="5" height="9" fill="#26a69a"/>
<rect x="545" y="560" width="4" height="9" fill="#26a69a"/>
<rect x="550" y="562" width="5" height="7" fill="#b2dfdb"/>
<rect x="556" y="561" width="5" height="8" fill="#26a69a"/>
<rect x="562" y="558" width="5" height="11" fill="#26a69a"/>
<rect x="568" y="557" width="5" height="12" fill="#26a69a"/>
<rect x="574" y="558" width="5" height="11" fill="#b2dfdb"/>
<rect x="580" y="558" width="4" height="11" fill="#b2dfdb"/>
<rect x="585" y="559" width="5" height="10" fill="#b2dfdb"/>
<rect x="591" y="558" width="5" height="11" fill="#26a69a"/>
<rect x="597" y="556" width="5" height="13" fill="#26a69a"/>
<rect x="603" y="555" width="5" height="14" fill="#26a69a"/>
<rect x="609" y="556" width="5" height="13" fill="#b2dfdb"/>
<rect x="615" y="559" width="4" height="10" fill="#b2dfdb"/>
<rect x="620" y="561" width="5" height="8" fill="#b2dfdb"/>
<rect x="626" y="563" width="5" height="6" fill="#b2dfdb"/>
<rect x="632" y="566" width="5" height="3" fill="#b2dfdb"/>
<rect x="638" y="568" width="5" height="1" fill="#b2dfdb"/>
<rect x="644" y="568" width="5" height="4" fill="#ff5252"/>
<rect x="650" y="568" width="4" height="6" fill="#ff5252"/>
<rect x="655" y="568" width="5" height="4" fill="#ffcdd2"/>
<rect x="661" y="568" width="5" height="3" fill="#ffcdd2"/>
<rect x="667" y="568" width="5" height="2" fill="#ffcdd2"/>
<rect x="673" y="568" width="5" height="1" fill="#26a69a"/>
<rect x="679" y="568" width="5" height="1" fill="#26a69a"/>
<rect x="685" y="568" width="4" height="1" fill="#b2dfdb"/>
<rect x="690" y="568" width="5" height="2" fill="#ff5252"/>
<rect x="696" y="568" width="5" height="2" fill="#ffcdd2"/>
<rect x="702" y="568" width="5" height="1" fill="#26a69a"/>
<rect x="708" y="568" width="5" height="1" fill="#26a69a"/>
<rect x="714" y="568" width="5" height="1" fill="#26a69a"/>
<rect x="720" y="567" width="4" height="2" fill="#26a69a"/>
<rect x="725" y="567" width="5" height="2" fill="#26a69a"/>
<rect x="731" y="566" width="5" height="3" fill="#26a69a"/>
<rect x="737" y="564" width="5" height="5" fill="#26a69a"/>
<rect x="743" y="563" width="5" height="6" fill="#26a69a"/>
<rect x="749" y="562" width="5" height="7" fill="#26a69a"/>
<rect x="755" y="561" width="4" height="8" fill="#26a69a"/>
<rect x="760" y="559" width="5" height="10" fill="#26a69a"/>
<rect x="766" y="560" width="5" height="9" fill="#b2dfdb"/>
<rect x="772" y="563" width="5" height="6" fill="#b2dfdb"/>
<rect x="778" y="565" width="5" height="4" fill="#b2dfdb"/>
<rect x="784" y="566" width="5" height="3" fill="#b2dfdb"/>
<rect x="790" y="567" width="4" height="2" fill="#b2dfdb"/>
<rect x="795" y="567" width="5" height="2" fill="#b2dfdb"/>
<rect x="801" y="565" width="5" height="4" fill="#26a69a"/>
<rect x="807" y="563" width="5" height="6" fill="#26a69a"/>
<rect x="813" y="563" width="5" height="6" fill="#26a69a"/>
<rect x="819" y="563" width="5" height="6" fill="#b2dfdb"/>
<rect x="825" y="564" width="4" height="5" fill="#b2dfdb"/>
<rect x="830" y="565" width="5" height="4" fill="#b2dfdb"/>
<rect x="836" y="568" width="5" height="1" fill="#b2dfdb"/>
<rect x="842" y="568" width="5" height="5" fill="#ff5252"/>
<rect x="848" y="568" width="5" height="8" fill="#ff5252"/>
<rect x="854" y="568" width="5" height="9" fill="#ff5252"/>
<rect x="860" y="568" width="4" height="10" fill="#ff5252"/>
<rect x="865" y="568" width="5" height="10" fill="#ff5252"/>
<rect x="871" y="568" width="5" height="12" fill="#ff5252"/>
<rect x="877" y="568" width="5" height="10" fill="#ffcdd2"/>
<rect x="883" y="568" width="5" height="8" fill="#ffcdd2"/>
<rect x="889" y="568" width="5" height="5" fill="#ffcdd2"/>
<rect x="895" y="568" width="4" height="7" fill="#ff5252"/>
<rect x="900" y="568" width="5" height="9" fill="#ff5252"/>
<rect x="906" y="568" width="5" height="14" fill="#ff5252"/>
<rect x="912" y="568" width="5" height="18" fill="#ff5252"/>
<rect x="918" y="568" width="5" height="19" fill="#ff5252"/>
<rect x="924" y="568" width="5" height="20" fill="#ff5252"/>
<rect x="930" y="568" width="4" height="20" fill="#ff5252"/>
<rect x="935" y="568" width="5" height="24" fill="#ff5252"/>
<rect x="941" y="568" width="5" height="22" fill="#ffcdd2"/>
<rect x="947" y="568" width="5" height="18" fill="#ffcdd2"/>
<rect x="953" y="568" width="5" height="15" fill="#ffcdd2"/>
<rect x="959" y="568" width="5" height="11" fill="#ffcdd2"/>
<rect x="965" y="568" width="4" height="9" fill="#ffcdd2"/>
<rect x="970" y="568" width="5" height="8" fill="#ffcdd2"/>
<rect x="976" y="568" width="5" height="7" fill="#ffcdd2"/>
<rect x="982" y="568" width="5" height="3" fill="#ffcdd2"/>
<rect x="988" y="567" width="5" height="2" fill="#26a69a"/>
<rect x="994" y="567" width="5" height="2" fill="#26a69a"/>
<rect x="1000" y="565" width="4" height="4" fill="#26a69a"/>
<rect x="1005" y="564" width="5" height="5" fill="#26a69a"/>
<rect x="1011" y="564" width="5" height="5" fill="#26a69a"/>
<rect x="1017" y="563" width="5" height="6" fill="#26a69a"/>
<rect x="1023" y="563" width="5" height="6" fill="#26a69a"/>
<rect x="1029" y="562" width="5" height="7" fill="#26a69a"/>
<rect x="1035" y="562" width="4" height="7" fill="#26a69a"/>
<rect x="1040" y="563" width="5" height="6" fill="#b2dfdb"/>
<rect x="1046" y="563" width="5" height="6" fill="#b2dfdb"/>
<rect x="1052" y="561" width="5" height="8" fill="#26a69a"/>
<rect x="1058" y="560" width="5" height="9" fill="#26a69a"/>
<rect x="1064" y="560" width="5" height="9" fill="#b2dfdb"/>
<rect x="1070" y="560" width="4" height="9" fill="#b2dfdb"/>
<rect x="1075" y="561" width="5" height="8" fill="#b2dfdb"/>
<rect x="1081" y="560" width="5" height="9" fill="#26a69a"/>
<rect x="1087" y="560" width="5" height="9" fill="#b2dfdb"/>
<rect x="1093" y="561" width="5" height="8" fill="#b2dfdb"/>
</g>
<polyline points="-2.0,525.0 1.3,527.5 8.1,532.8 16.1,538.2 21.5,542.9 26.9,546.0 32.9,547.0 40.3,551.7 51.1,557.0 60.5,560.0 69.9,561.7 75.2,561.7 80.6,560.0 86.0,554.3 91.4,551.0 96.7,549.9 104.8,550.7 111.5,551.4 120.9,550.3 126.3,552.7 134.4,555.0 140.0,558.4 144.2,564.5 150.4,569.8 156.7,572.9 161.9,580.6 167.2,584.4 173.4,587.5 179.7,586.9 186.0,585.4 191.2,585.0 196.4,580.6 202.7,575.0 208.9,569.8 215.2,567.7 221.5,564.5 226.7,558.9 231.9,558.3 237.2,557.2 242.4,559.7 248.6,569.8 254.9,579.2 260.1,580.6 266.4,579.8 273.7,581.9 280.4,586.5 290.9,592.3 296.1,593.4 306.6,592.1 320.1,595.3 325.4,595.3 335.8,591.7 343.1,585.4 348.4,582.3 355.7,582.3 364.0,584.4 370.3,585.4 382.8,584.8 389.1,588.6 395.4,598.4 405.8,607.0 417.3,609.1 428.8,604.2 441.3,604.7 452.8,611.1 470.6,616.4 481.0,616.4 491.5,622.0 499.8,625.1 506.1,625.1 516.5,619.5 524.9,613.6 535.4,607.4 540.0,605.7 546.3,602.6 552.5,603.6 557.8,601.1 565.1,593.8 571.3,590.0 581.8,587.1 592.2,582.7 600.6,575.0 605.8,571.4 611.0,569.8 623.6,571.4 631.9,573.9 642.4,578.1 651.8,582.3 663.3,581.3 675.8,579.2 686.3,578.8 694.6,579.8 707.2,578.5 717.6,577.7 732.2,575.0 740.6,570.8 751.0,566.6 761.5,560.4 769.8,559.7 782.4,561.4 797.0,562.5 807.4,556.2 815.8,554.1 818.4,553.5 828.8,552.6 835.1,554.1 842.4,560.4 851.8,567.3 866.4,575.0 876.9,579.2 890.4,577.7 899.8,583.4 906.1,590.7 914.5,601.1 922.8,608.4 932.2,617.2 937.5,626.2 945.8,628.9 954.2,629.3 962.5,628.3 970.9,628.7 978.2,628.3 985.5,624.5 991.8,622.0 999.1,619.9 1007.5,616.8 1018.9,613.6 1029.4,609.5 1036.7,607.4 1048.2,606.8 1059.7,599.0 1069.1,596.5 1077.4,594.2 1085.8,590.2 1095.5,588.2" fill="none" stroke="#2196f3" stroke-width="1.1" stroke-linejoin="round" stroke-linecap="round"/>
<path d="M-2.0,517.5 C-1.5,517.8 -1.3,517.7 1.3,519.1 C3.9,520.5 9.1,523.6 13.4,526.1 C17.7,528.6 22.4,531.5 26.9,533.9 C31.4,536.2 35.8,538.0 40.3,540.2 C44.8,542.4 49.2,544.9 53.7,546.9 C58.2,548.9 63.4,550.9 67.2,552.3 C71.0,553.6 73.9,554.5 76.6,555.0 C79.3,555.5 80.4,555.5 83.3,555.4 C86.2,555.2 90.0,554.5 94.0,554.1 C98.0,553.7 103.0,553.3 107.5,553.0 C112.0,552.7 116.4,552.2 120.9,552.3 C125.4,552.3 131.2,553.0 134.4,553.3 C137.6,553.6 138.0,553.6 140.0,554.1 C142.0,554.6 143.7,555.1 146.3,556.2 C148.9,557.4 152.9,559.3 155.7,561.0 C158.5,562.7 160.1,564.6 163.0,566.6 C165.9,568.6 169.9,571.1 173.4,572.9 C176.9,574.6 180.9,576.1 183.9,577.1 C186.9,578.1 188.9,578.4 191.2,578.8 C193.5,579.1 195.1,579.5 197.5,579.2 C199.9,578.9 202.5,578.2 205.8,577.1 C209.1,576.0 213.8,574.3 217.3,572.9 C220.8,571.5 223.6,569.9 226.7,568.7 C229.8,567.5 233.3,566.3 236.1,565.6 C238.9,564.9 241.3,564.5 243.4,564.5 C245.5,564.5 246.7,564.9 248.6,565.6 C250.5,566.3 252.1,567.5 254.9,568.7 C257.7,569.9 262.9,572.0 265.4,572.9 C267.9,573.8 267.1,572.8 270.0,573.8 C272.9,574.8 277.3,577.3 282.5,579.2 C287.7,581.1 295.0,583.7 301.3,585.4 C307.6,587.1 314.5,588.6 320.1,589.6 C325.7,590.6 329.9,591.3 334.8,591.1 C339.7,590.9 344.9,589.4 349.4,588.6 C353.9,587.8 356.3,587.0 361.9,586.5 C367.5,586.0 377.9,585.3 382.8,585.4 C387.7,585.5 387.4,585.7 391.2,587.1 C395.0,588.5 400.6,591.6 405.8,593.8 C411.0,596.0 416.6,599.0 422.5,600.5 C428.4,602.0 436.4,602.1 441.3,602.8 C446.2,603.5 446.9,603.8 451.8,604.9 C456.7,606.0 465.4,608.2 470.6,609.5 C475.8,610.8 478.6,611.3 483.1,612.6 C487.6,613.9 493.6,616.2 497.8,617.4 C502.0,618.5 505.1,619.1 508.2,619.5 C511.3,619.9 513.4,619.8 516.5,619.5 C519.6,619.2 523.2,618.8 527.0,617.8 C530.8,616.8 535.7,614.9 539.5,613.6 C543.3,612.3 547.1,611.0 550.0,610.1 C552.9,609.2 552.5,609.9 556.7,608.0 C561.0,606.1 569.2,601.8 575.5,599.0 C581.8,596.2 588.4,594.1 594.3,591.1 C600.2,588.1 606.1,583.6 611.0,581.3 C615.9,579.0 619.8,578.0 623.6,577.1 C627.4,576.2 630.5,576.0 634.0,576.0 C637.5,576.0 640.7,576.6 644.5,577.1 C648.3,577.6 651.8,578.4 657.0,578.8 C662.2,579.2 669.2,579.5 675.8,579.6 C682.4,579.7 689.7,579.7 696.7,579.6 C703.7,579.5 711.3,579.2 717.6,578.8 C723.9,578.4 729.1,578.1 734.3,577.1 C739.5,576.1 744.4,574.3 748.9,572.9 C753.4,571.5 757.7,569.9 761.5,568.7 C765.3,567.6 768.1,566.8 771.9,566.0 C775.7,565.2 780.3,564.6 784.5,564.1 C788.7,563.6 792.8,563.7 797.0,563.1 C801.2,562.5 805.2,561.3 809.5,560.4 C813.8,559.5 817.9,558.7 822.5,557.9 C827.1,557.1 832.3,555.6 837.2,555.8 C842.1,556.0 846.9,557.8 851.8,559.3 C856.7,560.8 861.5,562.6 866.4,564.5 C871.3,566.4 876.1,569.2 881.0,570.8 C885.9,572.4 891.5,572.5 895.7,573.9 C899.9,575.3 902.3,576.9 906.1,579.2 C909.9,581.5 914.4,584.5 918.6,587.5 C922.8,590.5 927.4,593.8 931.2,596.9 C935.0,600.0 937.8,603.3 941.6,606.3 C945.4,609.3 950.0,612.4 954.2,614.7 C958.4,617.0 962.5,618.5 966.7,619.9 C970.9,621.3 975.7,622.5 979.2,623.1 C982.7,623.7 984.5,623.7 987.6,623.7 C990.7,623.7 994.2,623.6 998.0,623.1 C1001.8,622.6 1006.4,621.8 1010.6,621.0 C1014.8,620.2 1018.9,619.2 1023.1,618.2 C1027.3,617.2 1031.2,615.9 1035.7,614.7 C1040.2,613.5 1045.4,612.6 1050.3,611.1 C1055.2,609.6 1060.0,607.6 1064.9,605.9 C1069.8,604.2 1074.4,602.4 1079.5,600.7 C1084.6,599.0 1092.8,596.7 1095.5,595.9" fill="none" stroke="#ff6d00" stroke-width="1.1" stroke-linejoin="round" stroke-linecap="round"/>
<g shape-rendering="crispEdges">
<rect x="0" y="0" width="1686" height="1" fill="#eff1f5"/>
<rect x="0" y="669" width="1686" height="1" fill="#eff1f5"/>
<rect x="0" y="0" width="1" height="670" fill="#eff1f5"/>
<rect x="1685" y="0" width="1" height="670" fill="#eff1f5"/>
<rect x="1" y="1" width="1684" height="1" fill="#f3f4f8"/>
<rect x="1" y="668" width="1684" height="1" fill="#f3f4f8"/>
<rect x="1" y="1" width="1" height="668" fill="#f3f4f8"/>
<rect x="1684" y="1" width="1" height="668" fill="#f3f4f8"/>
</g>
<text x="9.1" y="19.9" fill="#363a45" textLength="131.5" lengthAdjust="spacingAndGlyphs">ETH/USDT (Binance), 1D</text>
<text x="148.4" y="19.7" fill="#363a45" textLength="9" lengthAdjust="spacingAndGlyphs">O</text>
<text x="157.5" y="19.7" fill="#e60000" textLength="57" lengthAdjust="spacingAndGlyphs">1,982.8100</text>
<text x="222.4" y="19.7" fill="#363a45" textLength="8" lengthAdjust="spacingAndGlyphs">H</text>
<text x="230.5" y="19.7" fill="#e60000" textLength="57" lengthAdjust="spacingAndGlyphs">1,998.6600</text>
<text x="296" y="19.7" fill="#363a45" textLength="6" lengthAdjust="spacingAndGlyphs">L</text>
<text x="302.5" y="19.7" fill="#e60000" textLength="57" lengthAdjust="spacingAndGlyphs">1,951.8800</text>
<text x="369.5" y="19.7" fill="#363a45" textLength="7.5" lengthAdjust="spacingAndGlyphs">C</text>
<text x="377" y="19.7" fill="#e60000" textLength="57" lengthAdjust="spacingAndGlyphs">1,976.3300</text>
<text x="443.3" y="19.7" fill="#e60000" textLength="89" lengthAdjust="spacingAndGlyphs">-6.4700 (−0.33%)</text>
<text x="9.5" y="37.0" fill="#363a45" textLength="38.3" lengthAdjust="spacingAndGlyphs">Volume</text>
<text x="55.8" y="37.0" fill="#f7525f" textLength="49.2" lengthAdjust="spacingAndGlyphs">493.176K</text>
<text x="9.5" y="54.1" fill="#363a45" textLength="95.5" lengthAdjust="spacingAndGlyphs">EMA (50, close, 0)</text>
<text x="113.4" y="54.1" fill="#f23645" textLength="58.2" lengthAdjust="spacingAndGlyphs">2,290.6735</text>
<text x="9.5" y="70.8" fill="#363a45" textLength="101.8" lengthAdjust="spacingAndGlyphs">EMA (100, close, 0)</text>
<text x="119.4" y="70.8" fill="#2962ff" textLength="58.8" lengthAdjust="spacingAndGlyphs">2,635.9504</text>
<text x="9.3" y="405.2" fill="#363a45" textLength="40.1" lengthAdjust="spacingAndGlyphs">RSI (14)</text>
<text x="57.5" y="405.2" fill="#7e57c2" textLength="29.3" lengthAdjust="spacingAndGlyphs">43.35</text>
<text x="9.4" y="525.9000000000001" fill="#363a45" textLength="124.3" lengthAdjust="spacingAndGlyphs">MACD (12, 26, close, 9)</text>
<text x="142" y="525.9000000000001" fill="#ace5dc" textLength="41.5" lengthAdjust="spacingAndGlyphs">34.8999</text>
<text x="191.8" y="525.9000000000001" fill="#2196f3" textLength="45.8" lengthAdjust="spacingAndGlyphs">-90.5094</text>
<text x="245.5" y="525.9000000000001" fill="#ff6d00" textLength="51.7" lengthAdjust="spacingAndGlyphs">-125.4093</text>
<text x="1614.6" y="26.8" fill="#363a45" textLength="61" lengthAdjust="spacingAndGlyphs">3,750.0000</text>
<text x="1614.6" y="60.8" fill="#363a45" textLength="61" lengthAdjust="spacingAndGlyphs">3,500.0000</text>
<text x="1614.6" y="93.8" fill="#363a45" textLength="61" lengthAdjust="spacingAndGlyphs">3,250.0000</text>
<text x="1614.6" y="127.8" fill="#363a45" textLength="61" lengthAdjust="spacingAndGlyphs">3,000.0000</text>
<text x="1614.6" y="160.8" fill="#363a45" textLength="61" lengthAdjust="spacingAndGlyphs">2,750.0000</text>
<text x="1614.6" y="193.8" fill="#363a45" textLength="61" lengthAdjust="spacingAndGlyphs">2,500.0000</text>
<text x="1614.6" y="227.0" fill="#363a45" textLength="61" lengthAdjust="spacingAndGlyphs">2,250.0000</text>
<text x="1614.6" y="260.8" fill="#363a45" textLength="61" lengthAdjust="spacingAndGlyphs">2,000.0000</text>
<text x="1614.6" y="294.8" fill="#363a45" textLength="61" lengthAdjust="spacingAndGlyphs">1,750.0000</text>
<text x="1614.6" y="327.8" fill="#363a45" textLength="61" lengthAdjust="spacingAndGlyphs">1,500.0000</text>
<text x="1614.6" y="360.8" fill="#363a45" textLength="61" lengthAdjust="spacingAndGlyphs">1,250.0000</text>
<text x="1614.6" y="421.0" fill="#363a45" textLength="31" lengthAdjust="spacingAndGlyphs">60.00</text>
<text x="1614.6" y="459.0" fill="#363a45" textLength="31" lengthAdjust="spacingAndGlyphs">40.00</text>
<text x="1614.6" y="497.0" fill="#363a45" textLength="31" lengthAdjust="spacingAndGlyphs">20.00</text>
<text x="1614.6" y="528.9" fill="#363a45" textLength="50" lengthAdjust="spacingAndGlyphs">200.0000</text>
<text x="1614.6" y="572.9" fill="#363a45" textLength="37.5" lengthAdjust="spacingAndGlyphs">0.0000</text>
<text x="1614.6" y="616.9" fill="#363a45" textLength="54.5" lengthAdjust="spacingAndGlyphs">-200.0000</text>
<rect x="1607" y="164.0" width="73" height="17" rx="2" ry="2" fill="#2962ff"/>
<rect x="1607" y="164.0" width="4" height="17" fill="#2962ff"/>
<text x="1614.6" y="176.6" fill="#fff" stroke="#fff" stroke-width="0.35" textLength="61" lengthAdjust="spacingAndGlyphs">2,635.9504</text>
<rect x="1607" y="210.0" width="73" height="17" rx="2" ry="2" fill="#f23645"/>
<rect x="1607" y="210.0" width="4" height="17" fill="#f23645"/>
<text x="1614.6" y="222.6" fill="#fff" stroke="#fff" stroke-width="0.35" textLength="61" lengthAdjust="spacingAndGlyphs">2,290.6735</text>
<rect x="1607" y="252.0" width="73" height="17" rx="2" ry="2" fill="#e60000"/>
<rect x="1607" y="252.0" width="4" height="17" fill="#e60000"/>
<text x="1614.6" y="264.6" fill="#fff" stroke="#fff" stroke-width="0.35" textLength="61" lengthAdjust="spacingAndGlyphs">1,976.3300</text>
<rect x="1607" y="353.0" width="63" height="17" rx="2" ry="2" fill="#f7525f"/>
<rect x="1607" y="353.0" width="4" height="17" fill="#f7525f"/>
<text x="1614.6" y="365.6" fill="#fff" stroke="#fff" stroke-width="0.35" textLength="50.5" lengthAdjust="spacingAndGlyphs">493.176K</text>
<rect x="1607" y="441.0" width="43" height="17" rx="2" ry="2" fill="#7e57c2"/>
<rect x="1607" y="441.0" width="4" height="17" fill="#7e57c2"/>
<text x="1614.6" y="453.9" fill="#fff" stroke="#fff" stroke-width="0.35" textLength="31" lengthAdjust="spacingAndGlyphs">43.35</text>
<rect x="1607" y="553.0" width="56" height="17" rx="2" ry="2" fill="#ace5dc"/>
<rect x="1607" y="553.0" width="4" height="17" fill="#ace5dc"/>
<text x="1614.6" y="566.2" fill="#000" stroke="#000" stroke-width="0" textLength="43.5" lengthAdjust="spacingAndGlyphs">34.8999</text>
<rect x="1607" y="580.0" width="60" height="17" rx="2" ry="2" fill="#2196f3"/>
<rect x="1607" y="580.0" width="4" height="17" fill="#2196f3"/>
<text x="1614.6" y="593.2" fill="#fff" stroke="#fff" stroke-width="0.35" textLength="47.5" lengthAdjust="spacingAndGlyphs">-90.5094</text>
<rect x="1607" y="597.0" width="66" height="17" rx="2" ry="2" fill="#ff6d00"/>
<rect x="1607" y="597.0" width="4" height="17" fill="#ff6d00"/>
<text x="1614.6" y="610.2" fill="#fff" stroke="#fff" stroke-width="0.35" textLength="53.5" lengthAdjust="spacingAndGlyphs">-125.4093</text>
<text x="11.2" y="658.9000000000001" fill="#363a45" textLength="20.6" lengthAdjust="spacingAndGlyphs">Sep</text>
<text x="97.2" y="658.9000000000001" fill="#363a45" textLength="12.6" lengthAdjust="spacingAndGlyphs">15</text>
<text x="186.95" y="658.9000000000001" fill="#363a45" textLength="19.1" lengthAdjust="spacingAndGlyphs">Oct</text>
<text x="272.2" y="658.9000000000001" fill="#363a45" textLength="12.6" lengthAdjust="spacingAndGlyphs">15</text>
<text x="366.85" y="658.9000000000001" fill="#363a45" textLength="21.3" lengthAdjust="spacingAndGlyphs">Nov</text>
<text x="453.2" y="658.9000000000001" fill="#363a45" textLength="12.6" lengthAdjust="spacingAndGlyphs">15</text>
<text x="542.35" y="658.9000000000001" fill="#363a45" textLength="20.3" lengthAdjust="spacingAndGlyphs">Dec</text>
<text x="628.2" y="658.9000000000001" fill="#363a45" textLength="12.6" lengthAdjust="spacingAndGlyphs">15</text>
<text x="719.7" y="658.9000000000001" fill="#363a45" textLength="27.6" lengthAdjust="spacingAndGlyphs" font-weight="bold">2026</text>
<text x="809.2" y="658.9000000000001" fill="#363a45" textLength="12.6" lengthAdjust="spacingAndGlyphs">15</text>
<text x="904.35" y="658.9000000000001" fill="#363a45" textLength="20.3" lengthAdjust="spacingAndGlyphs">Feb</text>
<text x="990.2" y="658.9000000000001" fill="#363a45" textLength="12.6" lengthAdjust="spacingAndGlyphs">15</text>
<text x="1067.2" y="658.9000000000001" fill="#363a45" textLength="20.6" lengthAdjust="spacingAndGlyphs">Mar</text>
<text x="1153.2" y="658.9000000000001" fill="#363a45" textLength="12.6" lengthAdjust="spacingAndGlyphs">15</text>
<text x="1248.7" y="658.9000000000001" fill="#363a45" textLength="19.6" lengthAdjust="spacingAndGlyphs">Apr</text>
<text x="1334.2" y="658.9000000000001" fill="#363a45" textLength="12.6" lengthAdjust="spacingAndGlyphs">15</text>
<text x="1422.5" y="658.9000000000001" fill="#363a45" textLength="22" lengthAdjust="spacingAndGlyphs">May</text>
<text x="1509.2" y="658.9000000000001" fill="#363a45" textLength="12.6" lengthAdjust="spacingAndGlyphs">15</text>
</svg>
</body></html>
